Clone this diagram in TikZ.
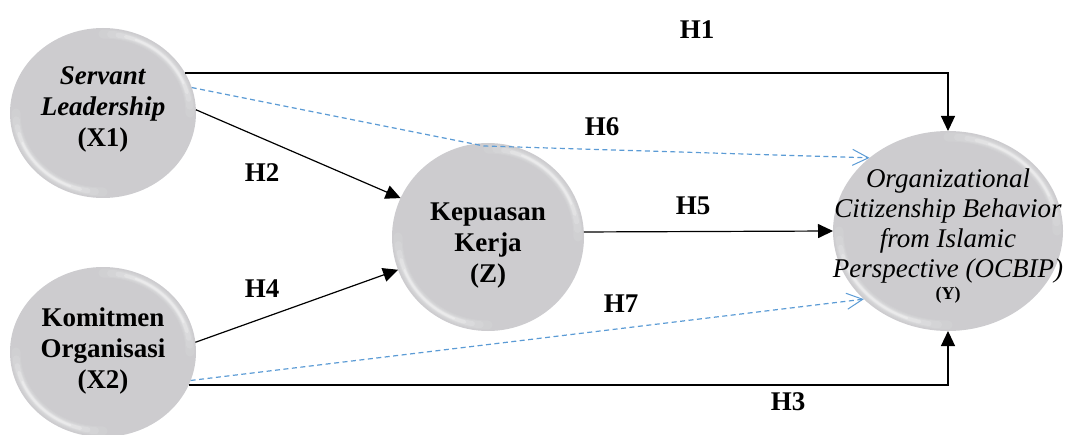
\documentclass[tikz,border=0pt]{standalone}
\usepackage{fontspec}
\setmainfont{Liberation Serif}
\usetikzlibrary{shapes.geometric,arrows.meta}
\definecolor{ballgray}{RGB}{205,204,207}
\definecolor{dashblue}{RGB}{91,155,213}
\tikzset{
  ball/.style={ellipse, fill=ballgray, inner sep=0pt, outer sep=0pt},
  btext/.style={align=center, font=\fontsize{27}{31}\selectfont\bfseries},
  ytext/.style={align=center, font=\fontsize{27}{30}\selectfont\itshape},
  hlab/.style={font=\fontsize{27}{30}\selectfont\bfseries},
  solidarrow/.style={draw=black, line width=1.2pt, -{Triangle[length=15pt,width=14pt]}},
  dasharrow/.style={draw=dashblue, line width=1.2pt, dash pattern=on 5pt off 3.5pt,
    -{Straight Barb[length=16pt,width=16pt,line width=1pt]}},
  hl/.style={white, line cap=round},
}
\newcommand{\hlarcs}[3]{%
  \foreach \w/\o/\a/\b in {9/0.08/0/90, 7/0.1/5/85, 5/0.15/10/80, 3.5/0.22/15/75, 2/0.3/22/68}{%
    \draw[hl, line width=\w pt, opacity=\o] ([shift={(#1.center)}]\a:#2pt and #3pt)
      arc[start angle=\a, end angle=\b, x radius=#2pt, y radius=#3pt];
    \draw[hl, line width=\w pt, opacity=\o] ([shift={(#1.center)}]180+\a:#2pt and #3pt)
      arc[start angle=180+\a, end angle=180+\b, x radius=#2pt, y radius=#3pt];
  }%
}
\begin{document}
\begin{tikzpicture}[x=1pt,y=1pt]
\useasboundingbox (0,0) rectangle (1067,434);

% balls
\node[ball, minimum width=186pt, minimum height=170pt] (X1) at (103,321) {};
\node[ball, minimum width=186pt, minimum height=170pt] (X2) at (103,82) {};
\node[ball, minimum width=192pt, minimum height=188pt] (Z) at (488,197) {};
\node[ball, minimum width=230pt, minimum height=200pt] (Y) at (948,203) {};
\hlarcs{X1}{87}{79}
\hlarcs{X2}{87}{79}
\hlarcs{Z}{90}{88}
\hlarcs{Y}{109}{94}

% texts
\node[btext] (X1t) at (103,325) {\textit{Servant}\\\textit{Leadership}\\(X1)};
\node[btext] (X2t) at (103,83) {Komitmen\\Organisasi\\(X2)};
\node[btext] (Zt) at (488,188) {Kepuasan\\Kerja\\(Z)};
\node[ytext] (Yt) at (948,198) {Organizational\\Citizenship Behavior\\from Islamic\\Perspective (OCBIP)\\[-8pt]{\fontsize{18}{20}\selectfont\upshape\bfseries (Y)}};

% connectors
\draw[solidarrow] (X1.26) -| (Y.north);
\draw[solidarrow] (X2.-21) -| (Y.south);
\draw[solidarrow] (X1.2) -- (Z.156);
\draw[solidarrow] (X2.6) -- (Z.200);
\draw[solidarrow] (Z.3) -- (Y.west);
\coordinate (h6bend) at (484,288);
\draw[dasharrow] (X1.16) -- (h6bend) -- (Y.137);
\draw[dasharrow] (X2.-18) -- (Y.219);

% labels
\node[hlab] (H1) at (697,404) {H1};
\node[hlab] (H6) at (602,307) {H6};
\node[hlab] (H2) at (262,261) {H2};
\node[hlab] (H4) at (262,145) {H4};
\node[hlab] (H5) at (693,228) {H5};
\node[hlab] (H7) at (621,130) {H7};
\node[hlab] (H3) at (788,32) {H3};
\end{tikzpicture}
\end{document}
